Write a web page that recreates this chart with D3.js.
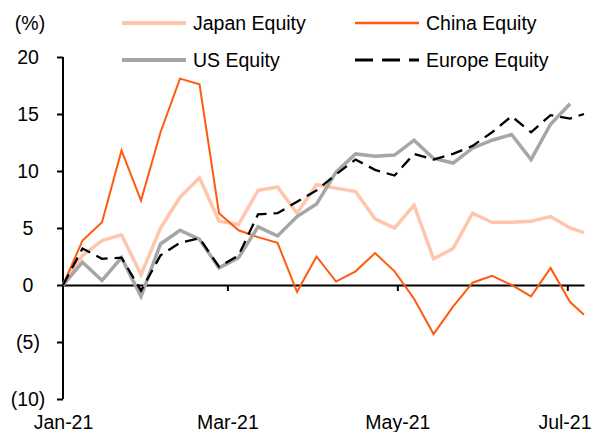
<!DOCTYPE html>
<html lang="en">
<head>
  <meta charset="UTF-8">
  <title>Equity returns 2021</title>
  <style>
    body { margin: 0; background: #fff; }
    svg { display: block; }
    text { font-family: "Liberation Sans", Arial, sans-serif; font-size: 19.5px; fill: #000; }
    .axis path, .axis line { stroke: #000; stroke-width: 2; }
  </style>
  <script src="https://d3js.org/d3.v7.min.js"></script>
</head>
<body>
  <div id="chart"></div>
  <script>
    // weekly dates (Fridays) plus one extra day at the end
    var dates = ["2021-01-01","2021-01-08","2021-01-15","2021-01-22","2021-01-29","2021-02-05","2021-02-12",
      "2021-02-19","2021-02-26","2021-03-05","2021-03-12","2021-03-19","2021-03-26","2021-04-02",
      "2021-04-09","2021-04-16","2021-04-23","2021-04-30","2021-05-07","2021-05-14","2021-05-21",
      "2021-05-28","2021-06-04","2021-06-11","2021-06-18","2021-06-25","2021-07-02","2021-07-07"];

    var japan = [0, 2.6, 3.9, 4.4, 0.9, 5.0, 7.7, 9.4, 5.6, 5.3, 8.3, 8.6, 6.3, 8.8,
      8.5, 8.2, 5.8, 5.0, 7.0, 2.3, 3.2, 6.3, 5.5, 5.5, 5.6, 6.0, 5.0, 4.6];
    var china = [0, 3.9, 5.5, 11.8, 7.4, 13.4, 18.1, 17.6, 6.3, 4.8, 4.2, 3.7, -0.6, 2.5,
      0.3, 1.2, 2.8, 1.2, -1.2, -4.3, -1.9, 0.2, 0.8, 0.0, -1.0, 1.5, -1.5, -2.6];
    var us = [0, 2.0, 0.4, 2.4, -1.0, 3.6, 4.8, 4.0, 1.5, 2.4, 5.1, 4.3, 6.0, 7.1,
      9.9, 11.5, 11.3, 11.4, 12.7, 11.1, 10.7, 12.0, 12.7, 13.2, 11.0, 14.1, 15.9];
    var europe = [0, 3.2, 2.3, 2.4, -0.5, 2.6, 3.7, 4.1, 1.6, 2.6, 6.2, 6.3, 7.3, 8.3,
      9.7, 11.0, 10.1, 9.6, 11.5, 11.0, 11.5, 12.2, 13.4, 14.8, 13.4, 14.9, 14.6, 15.0];

    var yTicks = [-10, -5, 0, 5, 10, 15, 20];
    var xTicks = ["2021-01-01", "2021-03-01", "2021-05-01", "2021-07-01"];

    var series = [
      { name: "Japan Equity", values: japan, color: "#ffc6ad", width: 3.5, dash: null },
      { name: "China Equity", values: china, color: "#ff5a10", width: 2, dash: null },
      { name: "US Equity", values: us, color: "#a6a6a6", width: 3.5, dash: null },
      { name: "Europe Equity", values: europe, color: "#000", width: 2.3, dash: "12,7" }
    ];

    var W = 593, H = 432;
    var parse = d3.timeParse("%Y-%m-%d");

    var x = d3.scaleTime()
      .domain([parse(dates[0]), parse(dates[dates.length - 1])])
      .range([63, 584]);
    var y = d3.scaleLinear().domain([-10, 20]).range([399, 57]);

    var svg = d3.select("#chart").append("svg")
      .attr("width", W)
      .attr("height", H);

    // y axis (ticks to the left)
    var yAxis = svg.append("g")
      .attr("class", "axis")
      .attr("transform", "translate(63,0)")
      .call(d3.axisLeft(y).tickValues(yTicks).tickSize(6).tickSizeOuter(0)
        .tickFormat(function(d) { return d < 0 ? "(" + (-d) + ")" : d; }));
    yAxis.selectAll("text").attr("x", -35).attr("dy", "0.35em")
      .attr("text-anchor", "middle").style("font-size", "19.5px");
    yAxis.select(".domain").attr("d", "M0," + y(-10) + "V" + y(20));

    // x axis at zero, ticks pointing down, labels at bottom
    var xAxis = svg.append("g")
      .attr("class", "axis")
      .attr("transform", "translate(0," + y(0) + ")")
      .call(d3.axisBottom(x).tickValues(xTicks.map(parse)).tickSize(6).tickSizeOuter(0)
        .tickFormat(d3.timeFormat("%b-%y")));
    xAxis.selectAll(".tick line").filter(function(d, i) { return i === 0; }).remove();
    xAxis.selectAll("text")
      .attr("y", 0)
      .attr("transform", "translate(0," + (422 - y(0)) + ")")
      .attr("dy", "0.35em")
      .style("font-size", "19.5px")
      .attr("text-anchor", function(d, i) { return i === xTicks.length - 1 ? "end" : "middle"; })
      .attr("dx", function(d, i) { return i === xTicks.length - 1 ? (W - 2 - x(d)) : 0; });

    var line = d3.line()
      .x(function(d, i) { return x(parse(dates[i])); })
      .y(function(d) { return y(d); });

    series.forEach(function(s) {
      svg.append("path")
        .datum(s.values)
        .attr("fill", "none")
        .attr("stroke", s.color)
        .attr("stroke-width", s.width)
        .attr("stroke-linejoin", "miter")
        .attr("stroke-dasharray", s.dash)
        .attr("d", line);
    });

    // axis label
    svg.append("text").attr("x", 30).attr("y", 23).attr("dy", "0.35em")
      .attr("text-anchor", "middle").text("(%)");

    // legend
    var legendPos = [[122, 23], [355, 23], [122, 60], [355, 60]];
    series.forEach(function(s, i) {
      var p = legendPos[i];
      var g = svg.append("g").attr("transform", "translate(" + p[0] + "," + p[1] + ")");
      g.append("line")
        .attr("x1", 0).attr("x2", 64).attr("y1", 0).attr("y2", 0)
        .attr("stroke", s.color)
        .attr("stroke-width", s.dash ? 3 : s.width + 0.5)
        .attr("stroke-dasharray", s.dash ? "18,9" : null);
      g.append("text").attr("x", 71).attr("dy", "0.35em").text(s.name);
    });
  </script>
</body>
</html>
